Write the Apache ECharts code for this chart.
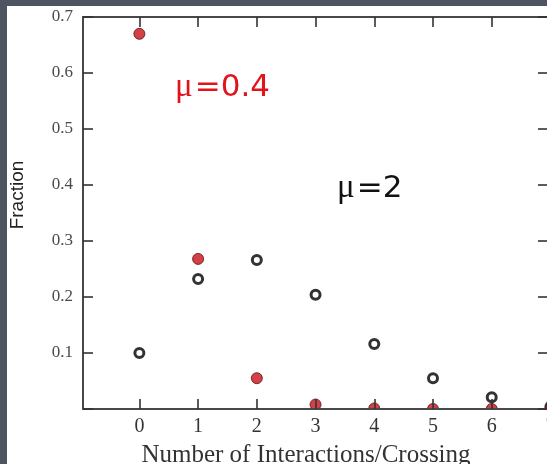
<!DOCTYPE html>
<html>
<head>
<meta charset="utf-8">
<script src="https://cdn.jsdelivr.net/npm/echarts@6/dist/echarts.min.js"></script>
<style>
  html, body { margin: 0; padding: 0; background: #4f5560; width: 547px; height: 464px; overflow: hidden; }
  #chart { position: absolute; left: 7px; top: 6px; width: 540px; height: 458px; background: #ffffff; }
</style>
</head>
<body>
<div id="chart"></div>
<script>
// Number of interactions per crossing
const counts = [0, 1, 2, 3, 4, 5, 6, 7];
// Fraction of crossings for mean 0.4 (filled red) and mean 2 (open black)
const fracMu04 = [0.670, 0.268, 0.055, 0.008, 0.001, 0.0, 0.0, 0.0];
const fracMu2  = [0.100, 0.232, 0.266, 0.204, 0.116, 0.055, 0.021, 0.004];
// Axis ticks
const xTicks = [0, 1, 2, 3, 4, 5, 6, 7];
const yTicks = [0.1, 0.2, 0.3, 0.4, 0.5, 0.6, 0.7];

const X_MIN = -0.96, X_MAX = 7.35;
const GRID = { left: 76, top: 11, right: -24, bottom: 55 };
const W = 540;

const chart = echarts.init(document.getElementById('chart'), null, { renderer: 'canvas' });

const serif = 'Liberation Serif, Times New Roman, serif';
const axisLine = { show: true, onZero: false, lineStyle: { color: '#484848', width: 2 } };
const tick = { show: true, inside: true, length: 10, lineStyle: { color: '#333', width: 1.6 } };

const pairs = (ys) => counts.map((c, i) => [c, ys[i]]);

chart.setOption({
  animation: false,
  backgroundColor: '#ffffff',
  grid: Object.assign({ containLabel: false, outerBoundsMode: 'none' }, GRID),
  xAxis: [
    {
      type: 'value', position: 'bottom', min: X_MIN, max: X_MAX, z: 4,
      axisLine, splitLine: { show: false },
      axisTick: Object.assign({}, tick, { customValues: xTicks }),
      axisLabel: { customValues: xTicks, color: '#333', fontFamily: serif, fontSize: 20, margin: 8 },
      name: 'Number of Interactions/Crossing', nameLocation: 'middle', nameGap: 34,
      nameTextStyle: { color: '#333', fontFamily: serif, fontSize: 25, padding: [0, 42, 0, 0] }
    },
    {
      type: 'value', position: 'top', min: X_MIN, max: X_MAX, z: 4,
      axisLine, splitLine: { show: false },
      axisTick: Object.assign({}, tick, { customValues: xTicks }),
      axisLabel: { show: false }
    }
  ],
  yAxis: [
    {
      type: 'value', position: 'left', min: 0, max: 0.7, interval: 0.1, z: 4,
      axisLine, splitLine: { show: false },
      axisTick: tick,
      axisLabel: {
        color: '#4a4a4a', fontFamily: serif, fontSize: 17, margin: 10,
        formatter: (v) => (yTicks.some(t => Math.abs(t - v) < 1e-9) ? v.toFixed(1) : '')
      },
      name: 'Fraction', nameLocation: 'middle', nameGap: 56,
      nameTextStyle: { color: '#222', fontFamily: 'Liberation Sans, Arial, sans-serif', fontSize: 19, padding: [0, 0, 0, 36] }
    },
    {
      type: 'value', position: 'right', min: 0, max: 0.7, interval: 0.1, offset: -23, z: 4,
      axisLine, splitLine: { show: false },
      axisTick: tick,
      axisLabel: { show: false }
    }
  ],
  graphic: [
    // white band under the plot floor so markers sitting on zero show only above it
    { type: 'rect', left: 0, bottom: 0, z: 3, silent: true,
      shape: { width: W, height: GRID.bottom - 1 }, style: { fill: '#ffffff' } },
    { type: 'text', left: 168, top: 65, z: 5,
      style: {
        text: '{m|μ}{t|=0.4}',
        rich: {
          m: { fontFamily: serif, fontSize: 33, fill: '#e0141a', padding: [0, 2, 0, 0] },
          t: { fontFamily: 'DejaVu Sans, sans-serif', fontSize: 31, fill: '#e0141a' }
        }
      } },
    { type: 'text', left: 330, top: 166, z: 5,
      style: {
        text: '{m|μ}{t|=2}',
        rich: {
          m: { fontFamily: serif, fontSize: 33, fill: '#111', padding: [0, 2, 0, 0] },
          t: { fontFamily: 'DejaVu Sans, sans-serif', fontSize: 31, fill: '#111' }
        }
      } }
  ],
  series: [
    {
      name: 'μ=2', type: 'scatter', xAxisIndex: 0, yAxisIndex: 0, z: 2, clip: false,
      symbol: 'circle', symbolSize: 9,
      itemStyle: { color: '#ffffff', borderColor: '#000000', borderWidth: 3 },
      data: pairs(fracMu2)
    },
    {
      name: 'μ=0.4', type: 'scatter', xAxisIndex: 0, yAxisIndex: 0, z: 2, clip: false,
      symbol: 'circle', symbolSize: 11,
      itemStyle: { color: '#c8121a', borderColor: '#5e0a0a', borderWidth: 1 },
      data: pairs(fracMu04)
    }
  ]
});
</script>
</body>
</html>
